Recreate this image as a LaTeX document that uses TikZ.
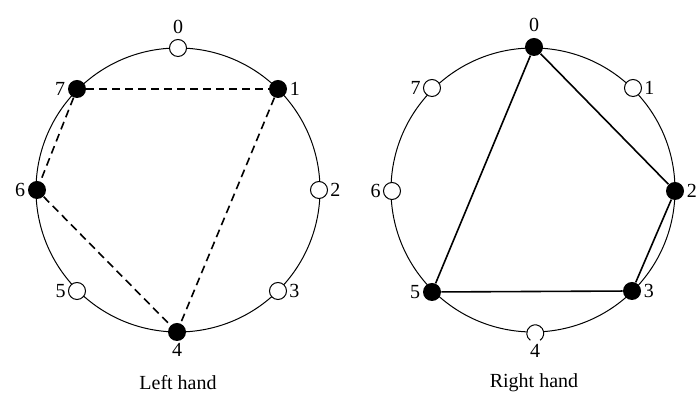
\documentclass[tikz,border=0pt]{standalone}
\usepackage{fontspec}
\setmainfont{Liberation Serif}
\usepackage{tikz}
\usetikzlibrary{positioning}

\begin{document}
\begin{tikzpicture}[x=0.5pt, y=-0.5pt, font=\normalsize,
    ring/.style={line width=0.5pt},
    fullkey/.style={circle, fill=black, inner sep=0pt, minimum size=9pt},
    openkey/.style={circle, draw, fill=white, inner sep=0pt, minimum size=8.5pt, line width=0.5pt},
    gapkey/.style={circle, fill=white, inner sep=0pt, minimum size=8.5pt},
    lefthand/.style={line width=0.8pt, dash pattern=on 4pt off 2.5pt},
    righthand/.style={line width=0.8pt},
    every label/.style={inner sep=1pt}]
    \useasboundingbox (0,0) rectangle (697,394);

    % Left hand ring
    \draw[ring] (178,190) circle[radius=142];
    \node[openkey, label={[label distance=1.5pt]above:0}] (L0) at (178,48) {};
    \node[fullkey, label=right:1] (L1) at (278,89) {};
    \node[openkey, label=right:2] (L2) at (319,190) {};
    \node[openkey, label=right:3] (L3) at (278,291) {};
    \node[fullkey, label=below:4] (L4) at (177,332) {};
    \node[openkey, label=left:5] (L5) at (77,291) {};
    \node[fullkey, label=left:6] (L6) at (37,190) {};
    \node[fullkey, label=left:7] (L7) at (77,89) {};
    \node (lcap) at (178,383) {Left hand};

    % Right hand ring
    \draw[ring] (533,190) circle[radius=142];
    \node[fullkey, label={[label distance=1.5pt]above:0}] (R0) at (534,47) {};
    \node[openkey, label=right:1] (R1) at (633,88) {};
    \node[fullkey, label=right:2] (R2) at (675,191) {};
    \node[fullkey, label=right:3] (R3) at (632,291) {};
    \node[gapkey, label=below:4] (R4) at (535,333) {};
    \node[fullkey, label=left:5] (R5) at (432,292) {};
    \node[openkey, label=left:6] (R6) at (392,191) {};
    \node[openkey, label=left:7] (R7) at (432,88) {};
    \node (rcap) at (534,383) {Right hand};
    \draw[line width=0.5pt] (R4.-55) arc[start angle=-55, end angle=235, radius=4.25pt];

    % Chords
    \draw[lefthand] (L7) -- (L1);
    \draw[lefthand] (L7) -- (L6);
    \draw[lefthand] (L6) -- (L4);
    \draw[lefthand] (L1) -- (L4);
    \draw[righthand] (R0) -- (R5);
    \draw[righthand] (R0) -- (R2);
    \draw[righthand] (R2) -- (R3);
    \draw[righthand] (R3) -- (R5);
\end{tikzpicture}
\end{document}
